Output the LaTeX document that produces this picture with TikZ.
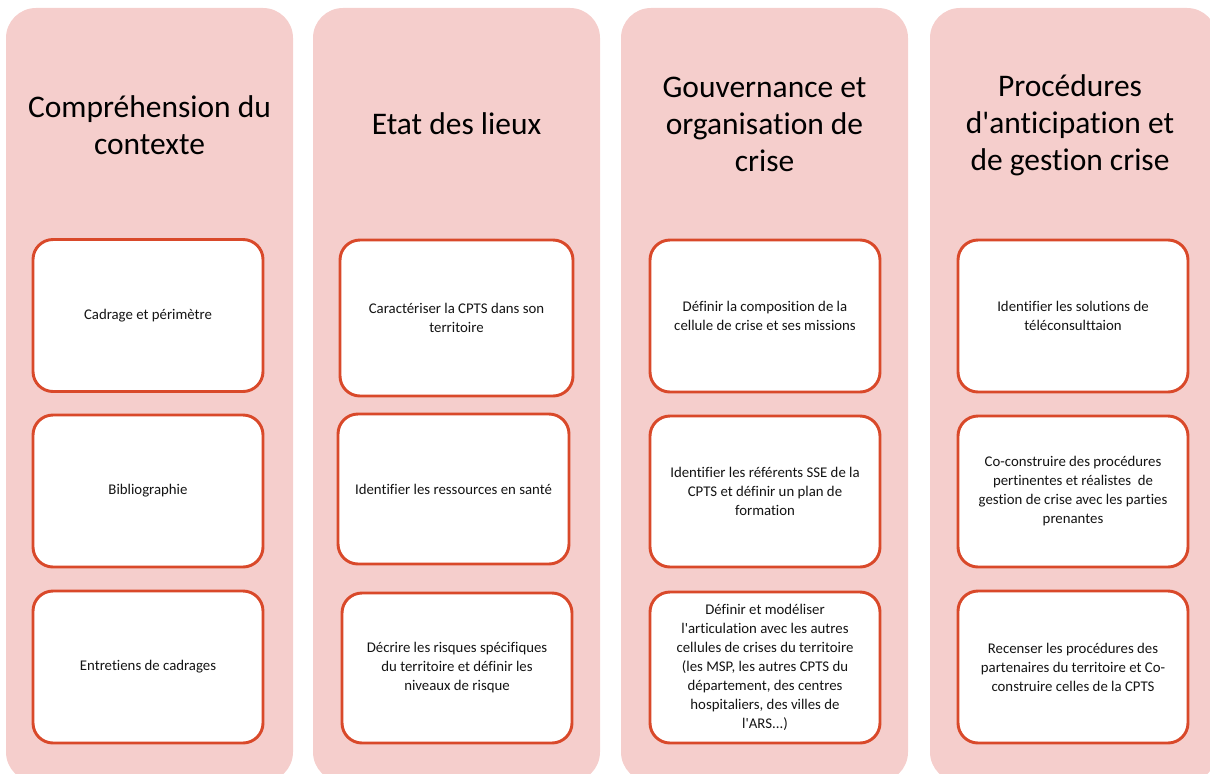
\documentclass[tikz,border=0pt]{standalone}
\usepackage{fontspec}
\setmainfont{Carlito}[Ligatures={NoCommon}]
\definecolor{colpink}{RGB}{245,206,204}
\definecolor{boxred}{RGB}{217,73,42}
\definecolor{txt}{RGB}{20,20,20}
\tikzset{
  column/.style={fill=colpink, rounded corners=22.5pt},
  header/.style={align=center, text=black, font=\fontsize{23.6pt}{27.75pt}\selectfont, inner sep=0pt},
  stepbox/.style={draw=boxred, line width=2.2pt, fill=white, rounded corners=15pt,
    align=center, text=txt, font=\fontsize{11.1pt}{14.25pt}\selectfont,
    minimum width=172.5pt, minimum height=114pt, inner sep=0pt},
}
\begin{document}
\begin{tikzpicture}[x=0.75pt, y=-0.75pt]
\useasboundingbox (0,0) rectangle (1210,774);
\clip (0,0) rectangle (1210,774);
% columns
\fill[column] (6,8) rectangle (293,782);
\fill[column] (313,8) rectangle (600,782);
\fill[column] (621,8) rectangle (908,782);
\fill[column] (930,8) rectangle (1217,782);
% headers
\node[header] (h1) at (149.5,125) {Compréhension du\\contexte};
\node[header] (h2) at (456.5,124) {Etat des lieux};
\node[header] (h3) at (764.5,124) {Gouvernance et\\organisation de\\crise};
\node[header] (h4) at (1070,125) {Procédures\\d\textquotesingle anticipation et\\de gestion crise};
% column 1
\node[stepbox] (a1) at (148,315.5) {Cadrage et périmètre};
\node[stepbox] (a2) at (148,491) {Bibliographie};
\node[stepbox] (a3) at (148,667) {Entretiens de cadrages};
% column 2
\node[stepbox, minimum width=174.75pt, minimum height=117pt] (b1) at (456.5,318) {Caractériser la CPTS dans son\\territoire};
\node[stepbox, minimum width=173.25pt, minimum height=112.5pt] (b2) at (453.5,489) {Identifier les ressources en santé};
\node[stepbox, minimum height=112.5pt] (b3) at (457,668) {Décrire les risques spécifiques\\du territoire et définir les\\niveaux de risque};
% column 3
\node[stepbox] (c1) at (765,316) {Définir la composition de la\\cellule de crise et ses missions};
\node[stepbox, minimum height=113.25pt] (c2) at (765,491.5) {Identifier les référents SSE de la\\CPTS et définir un plan de\\formation};
\node[stepbox, minimum height=113.25pt] (c3) at (765,667.5) {Définir et modéliser\\l\textquotesingle articulation avec les autres\\cellules de crises du territoire\\(les MSP, les autres CPTS du\\département, des centres\\hospitaliers, des villes de\\l\textquotesingle ARS...)};
% column 4
\node[stepbox] (d1) at (1073,316) {Identifier les solutions de\\téléconsulttaion};
\node[stepbox, minimum height=113.25pt] (d2) at (1073,491.5) {Co-construire des procédures\\pertinentes et réalistes~ de\\gestion de crise avec les parties\\prenantes};
\node[stepbox] (d3) at (1073,667) {Recenser les procédures des\\partenaires du territoire et Co-\\construire celles de la CPTS};
\end{tikzpicture}
\end{document}
